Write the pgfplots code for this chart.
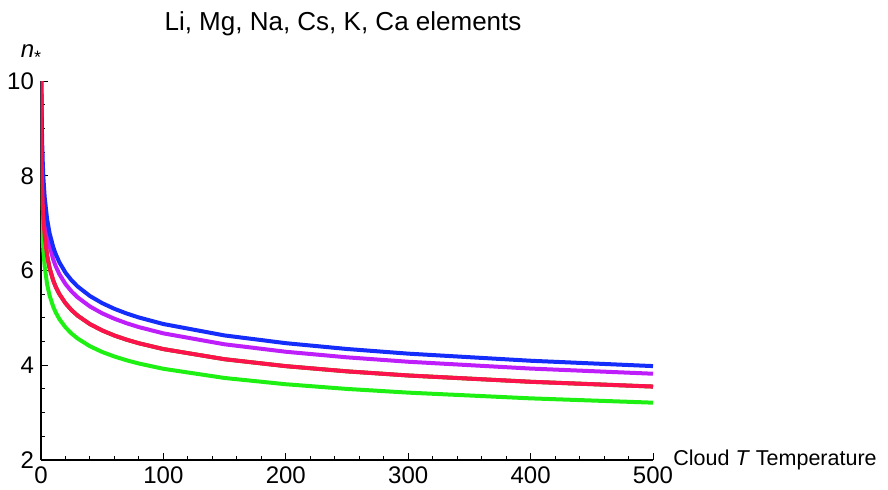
\documentclass[border=0pt]{standalone}
\usepackage{fontspec}
\setmainfont{Liberation Sans}
\usepackage{pgfplots}
\pgfplotsset{compat=1.18}
\definecolor{cblue}{RGB}{20,45,250}
\definecolor{cpurple}{RGB}{190,30,250}
\definecolor{cred}{RGB}{250,20,75}
\definecolor{cgreen}{RGB}{30,240,20}
\begin{document}
\begin{tikzpicture}
\begin{axis}[
  at={(0,0)}, anchor=south west,
  scale only axis, width=306pt, height=189.5pt,
  xmin=0, xmax=500, ymin=2, ymax=10,
  axis lines=left, axis line style={-, line width=0.6pt, black},
  xtick={0,100,...,500}, ytick={2,4,...,10},
  minor x tick num=4, minor y tick num=3,
  tick align=inside,
  major tick length=3.5pt, minor tick length=2pt,
  tick style={black, line width=0.5pt},
  /pgf/number format/assume math mode=true,
  tick label style={font=\fontsize{12}{14}\selectfont},
  clip=true,
  every axis plot/.append style={line width=2pt, line join=round},
]
\addplot[cgreen] coordinates {(0.1,10.29)(0.15,9.786)(0.2,9.440)(0.3,8.974)(0.5,8.419)(0.75,8.002)(1,7.720)(1.5,7.338)(2,7.079)(3,6.729)(5,6.313)(7,6.053)(10,5.789)(12,5.659)(15,5.503)(20,5.309)(25,5.163)(30,5.046)(40,4.868)(50,4.734)(60,4.627)(70,4.539)(80,4.464)(100,4.341)(150,4.127)(200,3.981)(250,3.871)(300,3.784)(400,3.651)(500,3.550)};
\addplot[cred, line width=1.8pt] coordinates {(0.1,10.29)(0.15,9.786)(0.2,9.440)(0.3,8.974)(0.5,8.419)(0.75,8.002)(1,7.720)(1.5,7.338)(2,7.079)(3,6.729)(5,6.313)(7,6.053)(10,5.789)(12,5.659)(15,5.503)(20,5.309)(25,5.163)(30,5.046)(40,4.868)(50,4.734)(60,4.627)(70,4.539)(80,4.464)(100,4.341)(150,4.127)(200,3.981)(250,3.871)(300,3.784)(400,3.651)(500,3.550)};
\addplot[cgreen] coordinates {(0.05,10.15)(0.1,9.308)(0.15,8.848)(0.2,8.535)(0.3,8.114)(0.5,7.612)(0.75,7.235)(1,6.980)(1.5,6.635)(2,6.401)(3,6.084)(5,5.708)(7,5.473)(10,5.234)(12,5.117)(15,4.975)(20,4.800)(25,4.668)(30,4.563)(40,4.401)(50,4.280)(60,4.184)(70,4.104)(80,4.036)(100,3.925)(150,3.731)(200,3.599)(250,3.500)(300,3.422)(400,3.301)(500,3.210)};
\addplot[cpurple] coordinates {(0.2,10.16)(0.3,9.659)(0.5,9.062)(0.75,8.614)(1,8.310)(1.5,7.899)(2,7.620)(3,7.244)(5,6.796)(7,6.516)(10,6.232)(12,6.091)(15,5.923)(20,5.714)(25,5.557)(30,5.432)(40,5.240)(50,5.096)(60,4.981)(70,4.886)(80,4.805)(100,4.673)(150,4.442)(200,4.285)(250,4.167)(300,4.074)(400,3.930)(500,3.821)};
\addplot[cblue] coordinates {(0.3,10.07)(0.5,9.444)(0.75,8.977)(1,8.660)(1.5,8.232)(2,7.941)(3,7.549)(5,7.082)(7,6.790)(10,6.494)(12,6.348)(15,6.173)(20,5.955)(25,5.791)(30,5.661)(40,5.461)(50,5.311)(60,5.191)(70,5.092)(80,5.008)(100,4.870)(150,4.629)(200,4.466)(250,4.343)(300,4.245)(400,4.095)(500,3.982)};
\addplot[cred] coordinates {(0.1,10.29)(0.15,9.786)(0.2,9.440)(0.3,8.974)(0.5,8.419)(0.75,8.002)(1,7.720)(1.5,7.338)(2,7.079)(3,6.729)(5,6.313)(7,6.053)(10,5.789)(12,5.659)(15,5.503)(20,5.309)(25,5.163)(30,5.046)(40,4.868)(50,4.734)(60,4.627)(70,4.539)(80,4.464)(100,4.341)(150,4.127)(200,3.981)(250,3.871)(300,3.784)(400,3.651)(500,3.550)};
\end{axis}
\node[font=\fontsize{13}{15}\selectfont] at (151pt,218pt) {Li, Mg, Na, Cs, K, Ca elements};
\node[font=\fontsize{12}{14}\selectfont] at (-5pt,203pt) {\textit{n}\raisebox{-0.5ex}{\fontsize{9}{10}\selectfont *}};
\node[font=\fontsize{10.75}{13}\selectfont, anchor=west, inner sep=0pt] at (316pt,0pt) {Cloud \textit{T} Temperature};
\pgfresetboundingbox
\path[use as bounding box] (-20.5pt,-15pt) rectangle (423.5pt,230pt);
\end{tikzpicture}
\end{document}
